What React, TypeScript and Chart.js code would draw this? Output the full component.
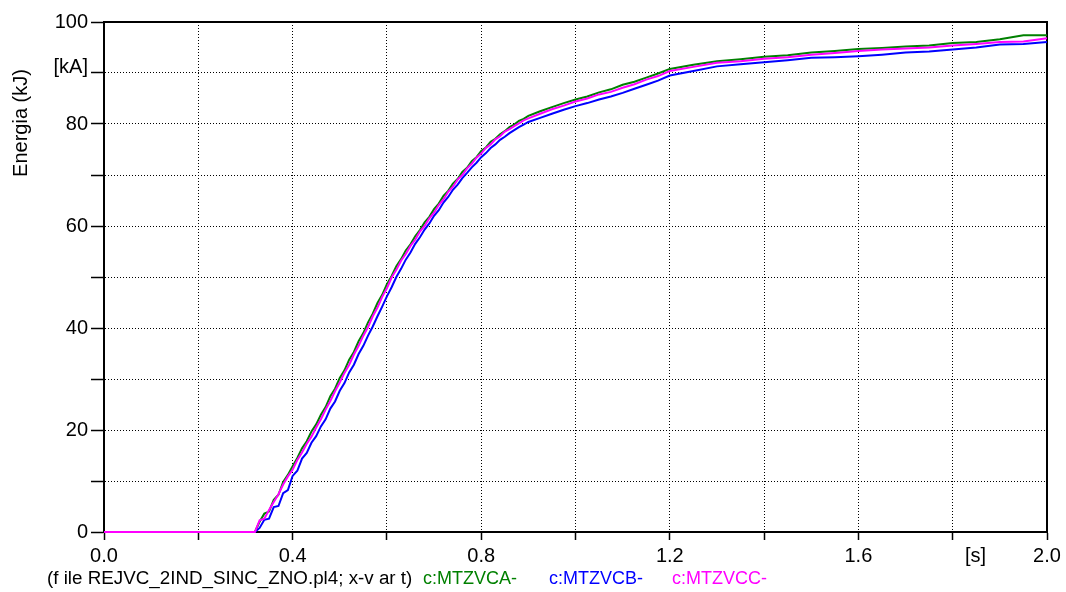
import React, { useEffect, useRef } from 'react';
import { Chart, registerables } from 'chart.js';

Chart.register(...registerables);

// Sample times (s)
const timeS = [
  0, 0.32, 0.33, 0.34, 0.35, 0.36, 0.37, 0.38, 0.39, 0.4, 0.41, 0.42, 0.43, 0.44, 0.45,
  0.46, 0.47, 0.48, 0.49, 0.5, 0.51, 0.52, 0.53, 0.54, 0.55, 0.56, 0.57, 0.58, 0.59, 0.6,
  0.61, 0.62, 0.63, 0.64, 0.65, 0.66, 0.67, 0.68, 0.69, 0.7, 0.71, 0.72, 0.73, 0.74, 0.75,
  0.76, 0.77, 0.78, 0.79, 0.8, 0.81, 0.82, 0.83, 0.84, 0.85, 0.86, 0.87, 0.88, 0.89, 0.9,
  0.925, 0.95, 0.975, 1.0, 1.025, 1.05, 1.075, 1.1, 1.125, 1.15, 1.175, 1.2,
  1.25, 1.3, 1.35, 1.4, 1.45, 1.5, 1.55, 1.6, 1.65, 1.7, 1.75, 1.8, 1.85, 1.9, 1.95, 2.0,
];

// c:MTZVCA- (green)
const energyA = [
  0, 0, 2.0, 3.6, 4.0, 6.3, 7.3, 9.8, 11.2, 12.9, 14.5, 16.4, 17.8, 19.7, 21.1,
  23.0, 24.5, 26.6, 28.1, 30.2, 31.7, 33.8, 35.3, 37.4, 39.0, 41.1, 42.8, 44.9, 46.5, 48.6,
  50.2, 52.1, 53.5, 55.2, 56.4, 58.0, 59.2, 60.7, 61.8, 63.3, 64.4, 65.9, 66.9, 68.3, 69.2,
  70.6, 71.4, 72.7, 73.5, 74.7, 75.4, 76.5, 77.1, 78.0, 78.6, 79.4, 79.9, 80.6, 81.0, 81.6,
  82.5, 83.3, 84.1, 84.8, 85.4, 86.2, 86.8, 87.7, 88.3, 89.1, 89.9, 90.8,
  91.6, 92.3, 92.7, 93.2, 93.5, 94.0, 94.3, 94.7, 94.9, 95.2, 95.4, 95.9, 96.1, 96.6, 97.4, 97.4,
];

// c:MTZVCB- (blue)
const energyB = [
  0, 0, 0.8, 2.4, 2.6, 4.9, 5.1, 7.6, 8.2, 11.0, 12.0, 14.4, 15.5, 17.5, 18.8,
  20.7, 22.1, 24.2, 25.6, 27.7, 29.2, 31.3, 32.8, 34.9, 36.5, 38.5, 40.3, 42.3, 44.2, 46.2,
  48.0, 50.0, 51.6, 53.4, 54.8, 56.5, 57.8, 59.3, 60.5, 62.0, 63.1, 64.6, 65.7, 67.1, 68.1,
  69.4, 70.4, 71.5, 72.4, 73.5, 74.3, 75.3, 76.0, 76.9, 77.5, 78.2, 78.8, 79.4, 79.9, 80.4,
  81.2, 82.0, 82.8, 83.5, 84.1, 84.8, 85.4, 86.1, 86.9, 87.7, 88.5, 89.5,
  90.4, 91.3, 91.7, 92.1, 92.5, 93.0, 93.1, 93.3, 93.6, 94.0, 94.2, 94.6, 95.0, 95.6, 95.7, 96.1,
];

// c:MTZVCC- (magenta)
const energyC = [
  0, 0, 2.3, 2.6, 4.3, 5.9, 7.4, 9.3, 10.9, 12.2, 14.1, 15.6, 17.3, 18.7, 20.5,
  22.1, 24.0, 25.7, 27.6, 29.3, 31.2, 32.8, 34.8, 36.5, 38.5, 40.2, 42.3, 44.0, 46.1, 47.8,
  49.9, 51.4, 53.2, 54.5, 56.1, 57.3, 58.9, 60.0, 61.5, 62.6, 64.1, 65.2, 66.7, 67.7, 69.1,
  70.0, 71.3, 72.2, 73.4, 74.2, 75.3, 76.0, 77.0, 77.6, 78.5, 79.0, 79.6, 80.1, 80.7, 81.1,
  82.0, 82.9, 83.6, 84.4, 85.0, 85.8, 86.3, 87.1, 87.8, 88.7, 89.4, 90.4,
  91.2, 92.0, 92.3, 92.8, 93.1, 93.6, 93.9, 94.3, 94.6, 94.8, 95.0, 95.4, 95.7, 96.1, 96.2, 96.8,
];

// Axis ticks and their labels
const xTickValues = [0, 0.2, 0.4, 0.6, 0.8, 1.0, 1.2, 1.4, 1.6, 1.8, 2.0];
const xTickLabels = ['0.0', '', '0.4', '', '0.8', '', '1.2', '', '1.6', '\u2003\u2003 [s]', '2.0'];
const yTickValues = [0, 10, 20, 30, 40, 50, 60, 70, 80, 90, 100];
const yTickLabels: (string | string[])[] = ['0', '', '20', '', '40', '', '60', '', '80', ['[kA]', ''], '100'];

const seriesNames = ['c:MTZVCA-', 'c:MTZVCB-', 'c:MTZVCC-'];
const seriesColors = ['#008000', '#0000ff', '#ff00ff'];
const fileCaption = '(f ile REJVC_2IND_SINC_ZNO.pl4; x-v ar t)';
const yTitle = 'Energia (kJ)';

const FONT = '"Liberation Sans", Arial, sans-serif';

const toPoints = (ys: number[]) => timeS.map((t, i) => ({ x: t, y: ys[i] }));

// Plot frame drawn under the curves
const frame = {
  id: 'frame',
  beforeDatasetsDraw(chart: Chart) {
    const { ctx, chartArea } = chart;
    const { left, top, right, bottom } = chartArea;
    ctx.save();
    ctx.strokeStyle = '#000';
    ctx.lineWidth = 2;
    ctx.strokeRect(left, top, right - left, bottom - top);
    ctx.restore();
  },
};

// Rotated y title and the caption row under the x axis
const captions = {
  id: 'captions',
  afterDraw(chart: Chart) {
    const { ctx } = chart;
    ctx.save();
    ctx.fillStyle = '#000';
    ctx.font = `20px ${FONT}`;
    ctx.textAlign = 'center';
    ctx.textBaseline = 'middle';
    ctx.save();
    ctx.translate(21, 123);
    ctx.rotate(-Math.PI / 2);
    ctx.fillText(yTitle, 0, 0);
    ctx.restore();

    ctx.textAlign = 'left';
    ctx.font = `18.8px ${FONT}`;
    ctx.fillStyle = '#000';
    ctx.fillText(fileCaption, 47, 579);
    ctx.font = `18px ${FONT}`;
    const starts = [423, 549, 672];
    seriesNames.forEach((name, i) => {
      ctx.fillStyle = seriesColors[i];
      ctx.fillText(name, starts[i], 579);
    });
    ctx.restore();
  },
};

export default function App() {
  const canvasRef = useRef<HTMLCanvasElement | null>(null);

  useEffect(() => {
    document.body.style.margin = '0';
    const canvas = canvasRef.current;
    if (!canvas) return;

    const datasets = [energyA, energyB, energyC].map((ys, i) => ({
      label: seriesNames[i],
      data: toPoints(ys),
      borderColor: seriesColors[i],
      backgroundColor: seriesColors[i],
      borderWidth: 2,
      pointRadius: 0,
      tension: 0,
      clip: 6,
      order: i === 2 ? 0 : i === 1 ? 1 : 2,
    }));

    const chart = new Chart(canvas, {
      type: 'line',
      data: { datasets },
      plugins: [frame, captions],
      options: {
        responsive: false,
        animation: false,
        layout: { padding: { top: 22, right: 19, left: 0, bottom: 0 } },
        plugins: {
          legend: { display: false },
          tooltip: { enabled: false },
        },
        scales: {
          x: {
            type: 'linear',
            min: 0,
            max: 2,
            afterBuildTicks: (scale: any) => {
              scale.ticks = xTickValues.map((v) => ({ value: v }));
            },
            afterFit: (scale: any) => {
              scale.height = 60;
            },
            ticks: {
              autoSkip: false,
              maxRotation: 0,
              padding: 4,
              color: '#000',
              font: { family: FONT, size: 20 },
              callback: (_v: any, index: number) => xTickLabels[index],
            },
            grid: {
              color: '#000',
              lineWidth: 1,
              tickLength: 8,
              tickColor: '#000',
              tickWidth: 1.5,
              tickBorderDash: [],
            },
            border: { display: true, color: '#000', width: 2, dash: [1, 2] },
          },
          y: {
            type: 'linear',
            min: 0,
            max: 100,
            afterBuildTicks: (scale: any) => {
              scale.ticks = yTickValues.map((v) => ({ value: v }));
            },
            afterFit: (scale: any) => {
              scale.width = 104;
            },
            ticks: {
              autoSkip: false,
              padding: 3,
              color: '#000',
              font: { family: FONT, size: 20, lineHeight: 0.6 },
              callback: (_v: any, index: number) => yTickLabels[index],
            },
            grid: {
              color: '#000',
              lineWidth: 1,
              tickLength: 13,
              tickColor: '#000',
              tickWidth: 1.5,
              tickBorderDash: [],
            },
            border: { display: true, color: '#000', width: 2, dash: [1, 2] },
          },
        },
      },
    });

    return () => chart.destroy();
  }, []);

  return (
    <div style={{ width: 1066, height: 592, background: '#fff' }}>
      <canvas ref={canvasRef} width={1066} height={592} />
    </div>
  );
}
